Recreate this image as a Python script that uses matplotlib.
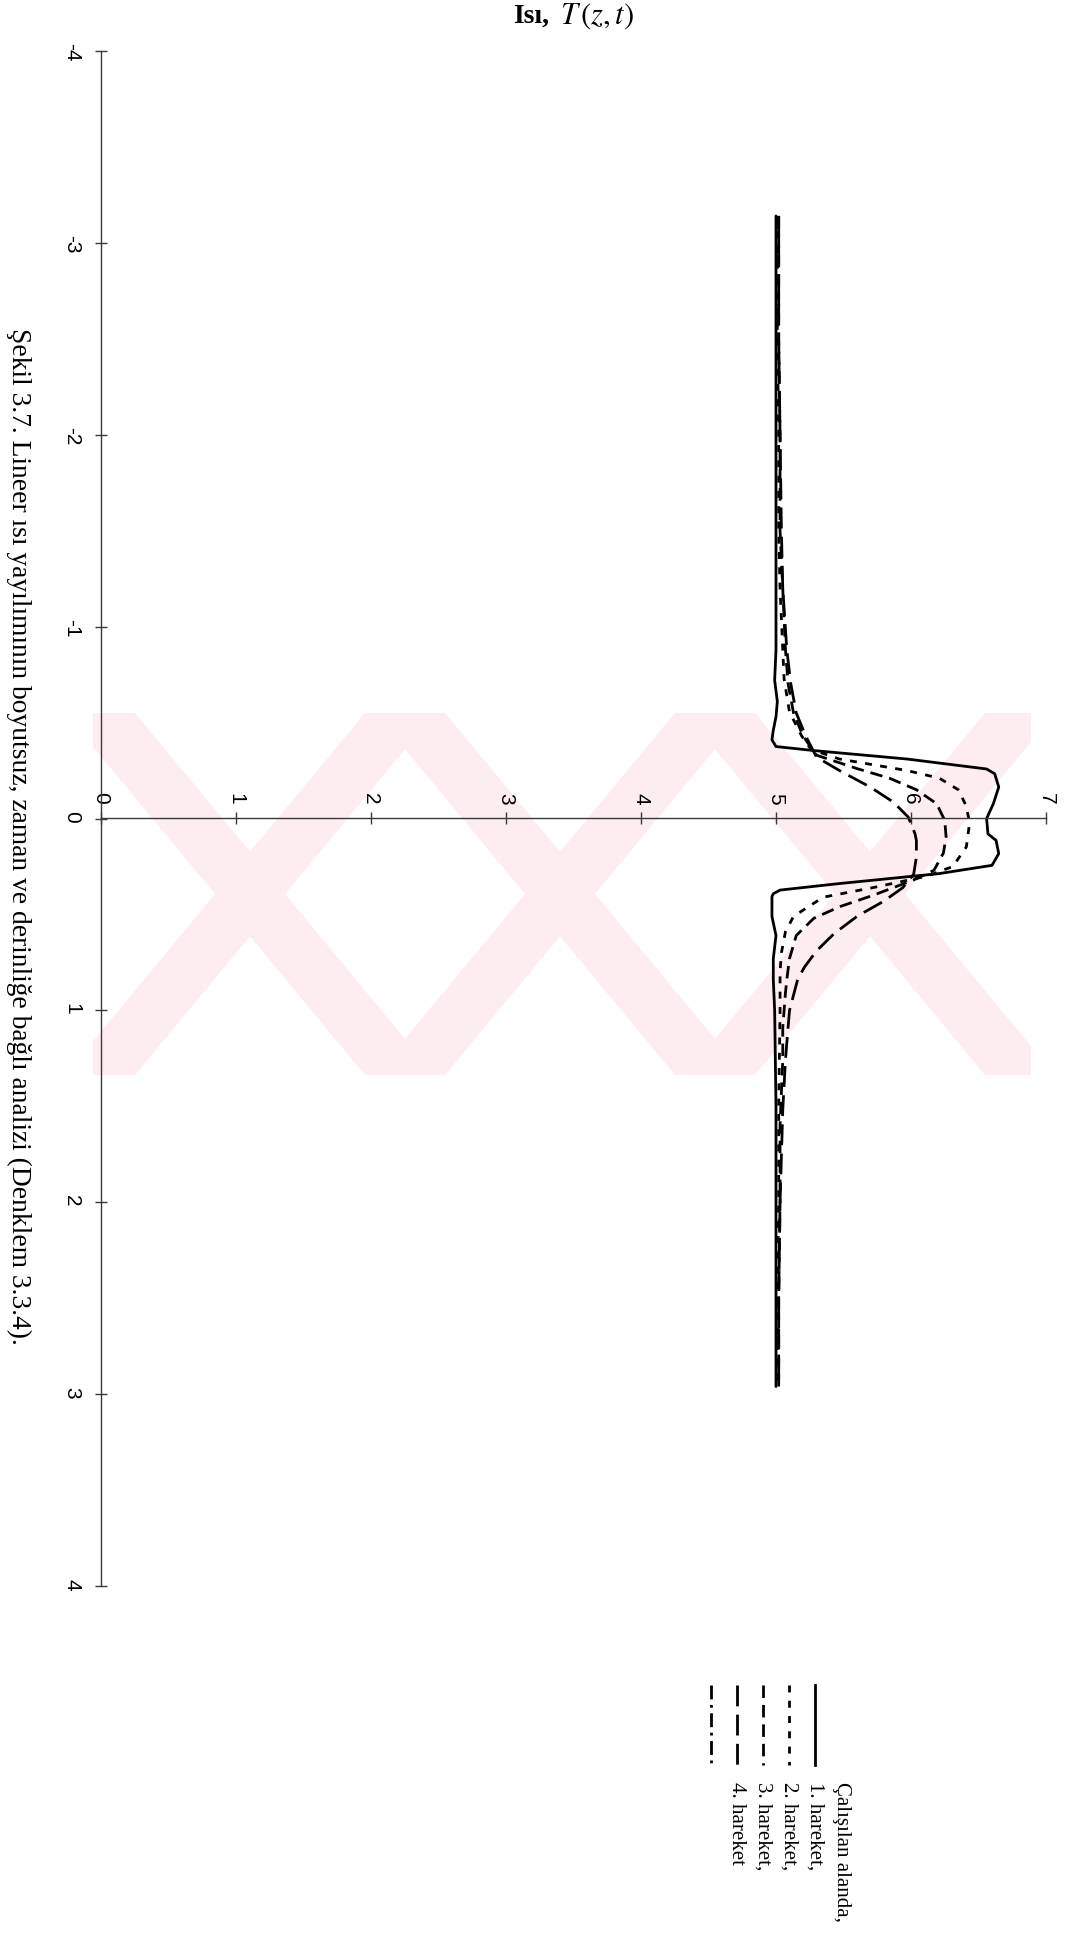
"""
Şekil 3.7 - lineer ısı yayılımı T(z,t), scanned page is rotated 90 deg clockwise.
"""

import matplotlib
matplotlib.use("Agg")
import matplotlib.pyplot as plt
from matplotlib.patches import Polygon
from matplotlib.lines import Line2D

plt.rcParams["axes.unicode_minus"] = False
plt.rcParams["lines.scale_dashes"] = False
plt.rcParams["mathtext.fontset"] = "stix"

W, H = 1068, 1936          # output size, px
DPI = 100

# ---- data: depth z (vertical) and temperature T --------------------------
z_solid = [-3.14, -2.5, -2.0, -1.5, -1.0, -0.88, -0.72, -0.61, -0.53, -0.46,
           -0.41, -0.375, -0.354, -0.31, -0.258, -0.233, -0.164, -0.077, 0.0,
           0.08, 0.114, 0.183, 0.244, 0.287, 0.339, 0.373, 0.392, 0.407, 0.51,
           0.61, 0.73, 0.84, 1.0, 1.5, 2.0, 2.5, 2.96]
T_solid = [5.0, 5.0, 5.0, 5.0, 5.0, 5.0, 4.99, 5.01, 5.0, 4.98,
           4.97, 5.0, 5.28, 5.97, 6.56, 6.62, 6.65, 6.61, 6.56,
           6.57, 6.63, 6.65, 6.60, 6.21, 5.47, 5.03, 4.98, 4.97, 4.97,
           5.0, 4.98, 4.98, 4.99, 5.0, 5.0, 5.0, 5.0]

z_h1 = [-3.14, -2.5, -2.0, -1.5, -1.2, -0.88, -0.727, -0.555, -0.43, -0.36,
        -0.31, -0.28, -0.25, -0.21, -0.15, -0.064, 0.01, 0.044, 0.148, 0.25,
        0.30, 0.36, 0.41, 0.51, 0.59, 0.70, 0.80, 1.0, 1.5, 2.0, 2.5, 2.96]
T_h1 = [5.01, 5.01, 5.02, 5.02, 5.03, 5.05, 5.06, 5.10, 5.19, 5.26,
        5.47, 5.72, 5.97, 6.21, 6.35, 6.41, 6.43, 6.43, 6.41, 6.31,
        6.12, 5.72, 5.35, 5.13, 5.07, 5.04, 5.03, 5.03, 5.02, 5.02, 5.01, 5.01]

z_h2 = [-3.14, -2.5, -2.0, -1.5, -1.2, -0.88, -0.7, -0.55, -0.43, -0.33,
        -0.26, -0.21, -0.15, -0.077, 0.01, 0.096, 0.18, 0.27, 0.32, 0.40,
        0.46, 0.52, 0.61, 0.73, 0.84, 0.91, 1.09, 1.26, 1.6, 2.0, 2.5, 2.96]
T_h2 = [5.02, 5.02, 5.03, 5.03, 5.05, 5.07, 5.09, 5.13, 5.20, 5.30,
        5.60, 5.84, 6.04, 6.19, 6.25, 6.26, 6.24, 6.17, 6.02, 5.72,
        5.47, 5.28, 5.15, 5.10, 5.08, 5.07, 5.05, 5.05, 5.03, 5.03, 5.02, 5.02]

z_h3 = [-3.14, -2.5, -2.0, -1.5, -1.2, -0.88, -0.7, -0.55, -0.43, -0.32,
        -0.25, -0.163, -0.085, -0.007, 0.08, 0.115, 0.20, 0.29, 0.36, 0.43,
        0.51, 0.60, 0.69, 0.775, 0.84, 1.0, 1.17, 1.26, 1.52, 2.0, 2.5, 2.96]
T_h3 = [5.02, 5.02, 5.03, 5.04, 5.05, 5.08, 5.11, 5.15, 5.22, 5.30,
        5.47, 5.70, 5.87, 5.98, 6.03, 6.04, 6.04, 6.02, 5.94, 5.80,
        5.60, 5.43, 5.30, 5.21, 5.16, 5.10, 5.08, 5.07, 5.05, 5.03, 5.02, 5.02]

z_ticks = [-4, -3, -2, -1, 0, 1, 2, 3, 4]
T_ticks = [0, 1, 2, 3, 4, 5, 6, 7]

labels = ["Çalışılan alanda,", "1. hareket,", "2. hareket,", "3. hareket,", "4. hareket"]
styles = ["-", (0, (5, 6)), (0, (9, 5)), (0, (15, 6)), (0, (10, 4, 2, 4))]
series = [(z_solid, T_solid), (z_h1, T_h1), (z_h2, T_h2), (z_h3, T_h3)]

# ---- pixel mapping of the scanned axes --------------------------------------
T0_PX, T_SCALE = 101.0, 135.0      # T=0 at x=101 px, 135 px per unit
Z0_PX, Z_SCALE = 818.5, 191.9      # z=0 at y=818.5 px (from top)

fig = plt.figure(figsize=(W / DPI, H / DPI), dpi=DPI)

# page layer in pixel coords: watermark, legend, caption, title
page = fig.add_axes([0, 0, 1, 1], zorder=0)
page.set_xlim(0, W)
page.set_ylim(H, 0)
page.axis("off")

pink = "#fdedf1"
band = 70
y_top, y_bot = 713, 1075
clip = matplotlib.transforms.Bbox([[93, y_top], [1031, y_bot]])
for cx in (250, 560, 870):
    for sgn in (-1, 1):
        xt, xb = cx + sgn * 150, cx - sgn * 150
        poly = Polygon([(xt - band / 2, y_top), (xt + band / 2, y_top),
                        (xb + band / 2, y_bot), (xb - band / 2, y_bot)],
                       closed=True, facecolor=pink, edgecolor="none")
        page.add_patch(poly)
        poly.set_clip_box(page.transData.transform_bbox(clip))

# main chart
ax = fig.add_axes([0, 0, 1, 1], zorder=1)
ax.set_facecolor("none")
ax.set_xlim((0 - T0_PX) / T_SCALE, (W - T0_PX) / T_SCALE)
ax.set_ylim((H - Z0_PX) / Z_SCALE, (0 - Z0_PX) / Z_SCALE)

for (zz, tt), ls in zip(series, styles):
    ax.plot(tt, zz, color="black", lw=2.0, linestyle=ls,
            solid_capstyle="round", dash_capstyle="butt")

axis_col = "#3a3a3a"
ax.spines["right"].set_visible(False)
ax.spines["bottom"].set_visible(False)
ax.spines["left"].set_position(("data", 0))
ax.spines["left"].set_bounds(-4, 4)
ax.spines["top"].set_position(("data", 0))
ax.spines["top"].set_bounds(0, 7)
for s in ("left", "top"):
    ax.spines[s].set_color(axis_col)
    ax.spines[s].set_linewidth(1.0)

ax.xaxis.set_ticks_position("top")
ax.yaxis.set_ticks_position("left")
ax.set_xticks(T_ticks)
ax.set_yticks(z_ticks)
ax.set_xticklabels([str(v) for v in T_ticks])
ax.set_yticklabels([str(v) for v in z_ticks])
ax.tick_params(axis="both", direction="inout", length=8.6, width=1.0,
               color=axis_col, labelsize=15, labelrotation=-90)
ax.tick_params(axis="x", pad=6)
ax.tick_params(axis="y", pad=10)
for lab in ax.get_xticklabels() + ax.get_yticklabels():
    lab.set_fontfamily("Liberation Sans")

# title (top) and caption (rotated, left)
page.text(549, 16, "Isı,", fontfamily="Liberation Serif", fontweight="bold",
          fontsize=20, ha="right", va="center")
page.text(560, 16, r"$T\,(z,t)$", fontsize=22, ha="left", va="center")
page.text(19, 836,
          "Şekil 3.7. Lineer ısı yayılımının boyutsuz, zaman ve derinliğe "
          "bağlı analizi (Denklem 3.3.4).",
          fontfamily="Liberation Serif", fontsize=19.8, rotation=-90,
          ha="center", va="center")

# legend, drawn as in the scan: one vertical column per entry
text_x = [841, 815, 789, 763, 737]
line_x = [815, 789, 763, 737, 711]
for i, (lab, ls) in enumerate(zip(labels, styles)):
    page.add_line(Line2D([line_x[i], line_x[i]], [1685, 1765], color="black",
                         lw=2.0, linestyle=ls))
    page.text(text_x[i], 1782, lab, fontfamily="Liberation Serif", fontsize=15,
              rotation=-90, ha="center", va="top")

fig.savefig("out.png", dpi=DPI)
